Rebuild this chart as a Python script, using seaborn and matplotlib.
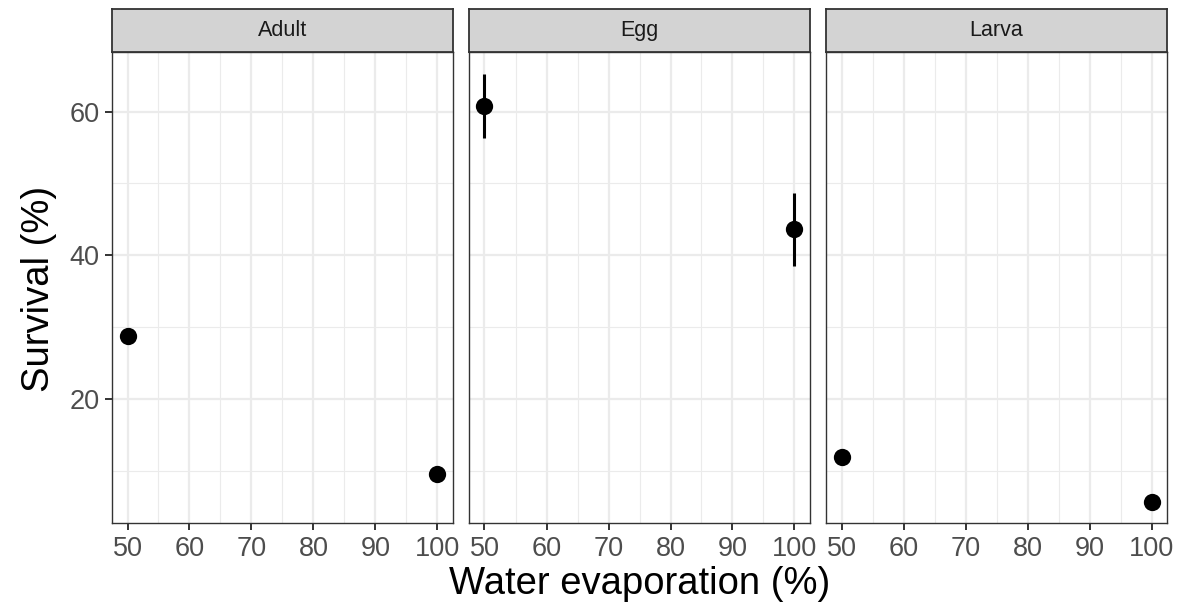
import numpy as np
import pandas as pd
import matplotlib
matplotlib.use("Agg")
import matplotlib.pyplot as plt
import seaborn as sns

# ---- data ----
stages = ["Adult", "Egg", "Larva"]
evaporation = [50, 100]
adult_survival = [28.8, 9.5]
egg_survival = [60.8, 43.6]
larva_survival = [11.9, 5.6]
adult_err = [0.0, 0.0]
egg_err = [4.5, 5.1]
larva_err = [0.0, 0.0]
x_ticks = [50, 60, 70, 80, 90, 100]
y_ticks = [20, 40, 60]

rows = []
for st, vals, errs in zip(stages, [adult_survival, egg_survival, larva_survival],
                          [adult_err, egg_err, larva_err]):
    for x, v, e in zip(evaporation, vals, errs):
        rows.append({"stage": st, "evap": x, "surv": v, "err": e})
df = pd.DataFrame(rows)

sns.set_theme(style="white")
plt.rcParams["font.family"] = ["Liberation Sans", "DejaVu Sans"]

W, H = 1196, 606
fig = plt.figure(figsize=(W / 100, H / 100), dpi=100)
fig.patch.set_facecolor("white")

lefts = [112, 469, 826]
pw = 341
top_px, bot_px = 52, 523
strip_top = 9

ymin, ymax = 2.7, 68.3
xmin, xmax = 47.5, 102.5

for i, st in enumerate(stages):
    ax = fig.add_axes([lefts[i] / W, 1 - bot_px / H, pw / W, (bot_px - top_px) / H])
    sub = df[df["stage"] == st]
    ax.set_xlim(xmin, xmax)
    ax.set_ylim(ymin, ymax)
    # grid
    for xv in [55, 65, 75, 85, 95]:
        ax.axvline(xv, color="#EBEBEB", lw=0.8, zorder=0)
    for yv in [10, 30, 50]:
        ax.axhline(yv, color="#EBEBEB", lw=0.8, zorder=0)
    for xv in x_ticks:
        ax.axvline(xv, color="#EBEBEB", lw=1.6, zorder=0)
    for yv in y_ticks:
        ax.axhline(yv, color="#EBEBEB", lw=1.6, zorder=0)
    # error bars
    e = sub[sub["err"] > 0]
    if len(e):
        ax.errorbar(e["evap"], e["surv"], yerr=e["err"], fmt="none",
                    ecolor="black", elinewidth=2.2, capsize=0, zorder=3)
    sns.scatterplot(data=sub, x="evap", y="surv", ax=ax, color="black",
                    s=155, edgecolor="black", linewidth=0, zorder=4, legend=False)
    ax.set_xlabel("")
    ax.set_ylabel("")
    ax.set_xticks(x_ticks)
    ax.set_xticklabels([str(t) for t in x_ticks])
    ax.tick_params(axis="x", length=5, width=1.4, color="#333333",
                   labelsize=19.5, labelcolor="#4D4D4D", pad=4, direction="out",
                   bottom=True)
    if i == 0:
        ax.set_yticks(y_ticks)
        ax.set_yticklabels([str(t) for t in y_ticks])
        ax.tick_params(axis="y", length=5, width=1.4, color="#333333",
                       labelsize=19.5, labelcolor="#4D4D4D", pad=4, direction="out",
                       left=True)
    else:
        ax.set_yticks(y_ticks)
        ax.tick_params(axis="y", left=False, labelleft=False)
    for sp in ax.spines.values():
        sp.set_color("#333333")
        sp.set_linewidth(1.0)
        sp.set_visible(True)
    ax.set_facecolor("white")
    # strip
    sax = fig.add_axes([lefts[i] / W, 1 - top_px / H, pw / W, (top_px - strip_top) / H])
    sax.set_facecolor("#D3D3D3")
    sax.set_xticks([])
    sax.set_yticks([])
    for sp in sax.spines.values():
        sp.set_color("#333333")
        sp.set_linewidth(1.3)
        sp.set_visible(True)
    sax.text(0.5, 0.5, st, ha="center", va="center", fontsize=15.5,
             color="#1A1A1A", transform=sax.transAxes)

fig.text((112 + 1168) / 2 / W, 1 - 584 / H, "Water evaporation (%)",
         ha="center", va="center", fontsize=27.5, color="black")
fig.text(39 / W, 1 - 289 / H, "Survival (%)", ha="center", va="center",
         rotation=90, fontsize=27.5, color="black")

fig.savefig("out.png", dpi=100, facecolor="white")
